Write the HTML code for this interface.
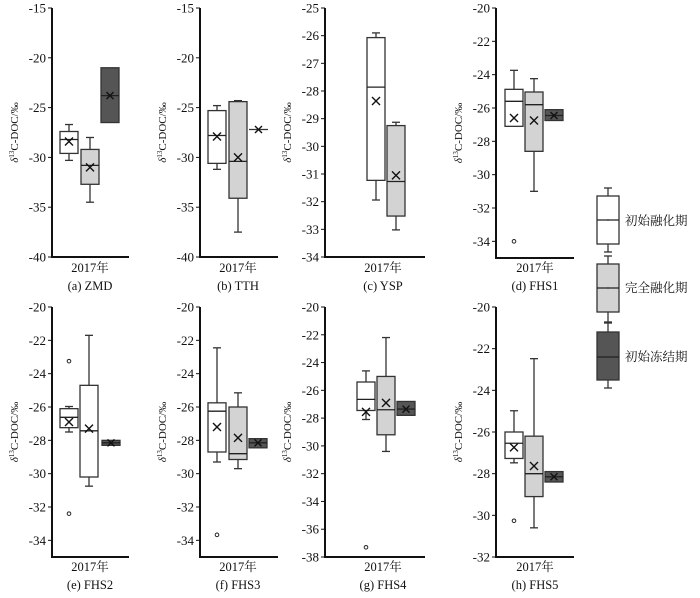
<!DOCTYPE html>
<html><head><meta charset="utf-8"><style>
body{margin:0;background:#fff;}
svg text{font-family:"Liberation Serif","Noto Serif CJK SC",serif;fill:#111;}
</style></head><body>
<svg id="s" width="700" height="593" viewBox="0 0 700 593" xmlns="http://www.w3.org/2000/svg">
<g font-size="12.5">
<text x="90" y="272" text-anchor="middle">2017年</text><text x="90" y="290" text-anchor="middle">(a) ZMD</text>
<text x="238" y="272" text-anchor="middle">2017年</text><text x="238" y="290" text-anchor="middle">(b) TTH</text>
<text x="383" y="272" text-anchor="middle">2017年</text><text x="383" y="290" text-anchor="middle">(c) YSP</text>
<text x="535" y="272" text-anchor="middle">2017年</text><text x="535" y="290" text-anchor="middle">(d) FHS1</text>
<text x="90" y="571" text-anchor="middle">2017年</text><text x="90" y="589" text-anchor="middle">(e)  FHS2</text>
<text x="238" y="571" text-anchor="middle">2017年</text><text x="238" y="589" text-anchor="middle">(f)  FHS3</text>
<text x="383" y="571" text-anchor="middle">2017年</text><text x="383" y="589" text-anchor="middle">(g)  FHS4</text>
<text x="535" y="571" text-anchor="middle">2017年</text><text x="535" y="589" text-anchor="middle">(h) FHS5</text>
<text x="625" y="225" font-size="12.5">初始融化期</text>
<text x="625" y="292" font-size="12.5">完全融化期</text>
<text x="625" y="361" font-size="12.5">初始冻结期</text>
</g>
</svg>
<script>
const s=document.getElementById('s');const NS='http://www.w3.org/2000/svg';
function el(t,a,txt){const e=document.createElementNS(NS,t);for(const k in a)e.setAttribute(k,a[k]);if(txt!==undefined)e.textContent=txt;s.appendChild(e);return e;}
const W='#fff',G='#d3d3d3',D='#555';
const panels=[
 {ax:52,top:8,bot:257,hi:-15,lo:-40,step:5,ticks:[-15,-20,-25,-30,-35,-40],end:129,off:[8,29,49],
  b:[[W,-26.7,-27.4,-28.2,-28.4,-29.6,-30.3],[G,-28.0,-29.2,-30.8,-31.0,-32.7,-34.5],[D,null,-21.0,-23.8,-23.8,-26.5,null]]},
 {ax:200,top:8,bot:257,hi:-15,lo:-40,ticks:[-15,-20,-25,-30,-35,-40],end:278,off:[8,29,49],
  b:[[W,-24.8,-25.3,-27.8,-27.9,-30.6,-31.2],[G,-24.3,-24.4,-30.4,-30.0,-34.1,-37.5],['line',-27.2]]},
 {ax:325,top:8,bot:257,hi:-25,lo:-34,ticks:[-25,-26,-27,-28,-29,-30,-31,-32,-33,-34],end:425,off:[42,62],
  b:[[W,-25.9,-26.07,-27.86,-28.36,-31.23,-31.94],[G,-29.13,-29.25,-31.27,-31.05,-32.52,-33.02]]},
 {ax:496,top:8,bot:258,hi:-20,lo:-35,ticks:[-20,-22,-24,-26,-28,-30,-32,-34],end:574,off:[9,29,49],
  b:[[W,-23.74,-24.88,-25.6,-26.6,-27.1,null,[-34.0]],[G,-24.24,-25.04,-25.8,-26.75,-28.6,-31.0],[D,null,-26.1,-26.45,-26.45,-26.75,null]]},
 {ax:52,top:307,bot:557,hi:-20,lo:-35,ticks:[-20,-22,-24,-26,-28,-30,-32,-34],end:129,off:[8,28,50],
  b:[[W,-25.97,-26.1,-26.62,-26.9,-27.24,-27.5,[-23.25,-32.4]],[W,-21.7,-24.7,-27.43,-27.3,-30.2,-30.75],[D,null,-28.0,-28.15,-28.15,-28.3,null]]},
 {ax:200,top:307,bot:557,hi:-20,lo:-35,ticks:[-20,-22,-24,-26,-28,-30,-32,-34],end:278,off:[8,29,49],
  b:[[W,-22.45,-25.75,-26.25,-27.2,-28.7,-29.3,[-33.67]],[G,-25.15,-26.0,-28.8,-27.85,-29.15,-29.7],[D,null,-27.9,-28.15,-28.15,-28.45,null]]},
 {ax:325,top:307,bot:557,hi:-20,lo:-38,ticks:[-20,-22,-24,-26,-28,-30,-32,-34,-36,-38],end:425,off:[32,52,72],
  b:[[W,-24.6,-25.4,-26.65,-27.55,-27.45,-28.1,[-37.3]],[G,-22.2,-25.0,-27.4,-26.9,-29.2,-30.4],[D,null,-26.8,-27.35,-27.35,-27.8,null]]},
 {ax:496,top:307,bot:557,hi:-20,lo:-32,ticks:[-20,-22,-24,-26,-28,-30,-32],end:574,off:[9,29,49],
  b:[[W,-24.98,-26.0,-26.54,-26.74,-27.27,-27.48,[-30.26]],[G,-22.48,-26.2,-28.0,-27.63,-29.1,-30.6],[D,null,-27.9,-28.15,-28.15,-28.4,null]]},
];
function box(x,w,y,col){
 const c=x+w/2,st='#333';
 if(y[0]!=null){el('line',{x1:c,x2:c,y1:y[0],y2:y[1],stroke:st,'stroke-width':1.3});el('line',{x1:c-4,x2:c+4,y1:y[0],y2:y[0],stroke:st,'stroke-width':1.3});}
 if(y[5]!=null){el('line',{x1:c,x2:c,y1:y[4],y2:y[5],stroke:st,'stroke-width':1.3});el('line',{x1:c-4,x2:c+4,y1:y[5],y2:y[5],stroke:st,'stroke-width':1.3});}
 el('rect',{x:x,y:y[1],width:w,height:Math.max(1,y[4]-y[1]),fill:col,stroke:st,'stroke-width':1.3});
 el('line',{x1:x,x2:x+w,y1:y[2],y2:y[2],stroke:'#222','stroke-width':1.3});
 return c;
}
function mark(c,m,sz){el('path',{d:`M${c-sz} ${m-sz}L${c+sz} ${m+sz}M${c-sz} ${m+sz}L${c+sz} ${m-sz}`,stroke:'#111','stroke-width':1.4,fill:'none'});}
for(const p of panels){
 const Y=v=>p.top+(p.hi-v)*(p.bot-p.top)/(p.hi-p.lo);
 for(const t of p.ticks){const y=Y(t);el('line',{x1:p.ax-4,x2:p.ax,y1:y,y2:y,stroke:'#111','stroke-width':1});
  el('text',{x:p.ax-6,y:y+4.5,'text-anchor':'end','font-size':13},String(t));}
 el('line',{x1:p.ax,x2:p.ax,y1:p.top,y2:p.bot+1,stroke:'#111','stroke-width':2});
 el('line',{x1:p.ax-1,x2:p.end,y1:p.bot,y2:p.bot,stroke:'#111','stroke-width':2});
 const cy=(p.top+p.bot)/2,lx=p.ax-34;
 const t=el('text',{x:lx,y:cy,'text-anchor':'middle','font-size':11,transform:`rotate(-90 ${lx} ${cy})`});
 t.innerHTML='<tspan font-style="italic">δ</tspan><tspan font-size="7" dy="-4">13</tspan><tspan dy="4">C-DOC/‰</tspan>';
 p.b.forEach((b,i)=>{
  const x=p.ax+p.off[i];
  if(b[0]==='line'){const y=Y(b[1]);el('line',{x1:x,x2:x+19,y1:y,y2:y,stroke:'#333','stroke-width':1.3});mark(x+9.5,y,3.5);return;}
  const ys=b.slice(1,7).map(v=>v==null?null:Y(v));
  const c=box(x,18,ys,b[0]);
  mark(c,ys[3],b[0]===D?3.5:4);
  if(b[7])for(const o of b[7])el('circle',{cx:c,cy:Y(o),r:1.8,fill:'#fff',stroke:'#222','stroke-width':1});
 });
}
function leg(col,wt,bt,med,bb,wb){const c=box(597,22,[wt,bt,med,med,bb,wb],col);el('circle',{cx:c,cy:med,r:0.9,fill:'#333'});}
leg(W,188,196,220,244,252);
leg(G,256,264,288,312,322);
leg(D,323,332,357,380,388);
</script>
</body></html>
